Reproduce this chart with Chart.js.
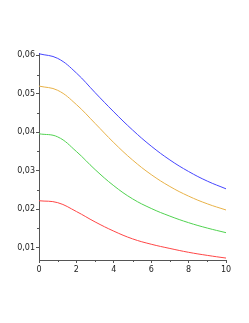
<!DOCTYPE html>
<html><head><meta charset="utf-8">
<script src="https://cdn.jsdelivr.net/npm/chart.js@4/dist/chart.umd.min.js"></script>
<style>html,body{margin:0;padding:0;background:#fff}#w{width:249px;height:323px}</style>
</head><body><div id="w"><canvas id="c"></canvas></div>
<script>
const xValues = [0,1,2,3,4,5,6,7,8,9,10];
const blueSeries   = [0.0604,0.0592,0.0554,0.0503,0.0453,0.0406,0.0364,0.0328,0.0298,0.0273,0.0253];
const orangeSeries = [0.0520,0.0509,0.0472,0.0423,0.0373,0.0328,0.0290,0.0259,0.0234,0.0214,0.0198];
const greenSeries  = [0.0396,0.0388,0.0350,0.0303,0.0261,0.0227,0.0202,0.0182,0.0165,0.0151,0.0139];
const redSeries    = [0.0222,0.0217,0.0194,0.0167,0.0143,0.0123,0.0109,0.0098,0.0088,0.0080,0.0073];
const yTickValues = [0.01,0.02,0.03,0.04,0.05,0.06];
const yTickLabels = ['0,01','0,02','0,03','0,04','0,05','0,06'];
const xTickValues = [0,2,4,6,8,10];
const yMinor = [0.015,0.025,0.035,0.045,0.055];
const xMinor = [1,3,5,7,9];

function pts(arr){ return xValues.map((x,i)=>({x:x,y:arr[i]})); }
function ds(arr,color){ return {data:pts(arr),borderColor:color,borderWidth:1,pointRadius:0,fill:false,tension:0.4}; }

const minorTicks = {
  id:'minorTicks',
  afterDraw(chart){
    const ctx=chart.ctx, xs=chart.scales.x, ys=chart.scales.y;
    ctx.save(); ctx.strokeStyle='#555'; ctx.lineWidth=1;
    yMinor.forEach(v=>{ const p=Math.round(ys.getPixelForValue(v))+0.5; ctx.beginPath(); ctx.moveTo(xs.left-2,p); ctx.lineTo(xs.left,p); ctx.stroke(); });
    xMinor.forEach(v=>{ const p=Math.round(xs.getPixelForValue(v))+0.5; ctx.beginPath(); ctx.moveTo(p,ys.bottom); ctx.lineTo(p,ys.bottom+2); ctx.stroke(); });
    ctx.restore();
  }
};

new Chart(document.getElementById('c'),{
  type:'line',
  data:{datasets:[ds(blueSeries,'rgb(70,70,255)'),ds(orangeSeries,'rgb(232,178,72)'),ds(greenSeries,'rgb(80,210,80)'),ds(redSeries,'rgb(255,70,70)')]},
  options:{
    responsive:true,maintainAspectRatio:false,animation:false,
    layout:{padding:{left:0,right:23,top:53,bottom:43}},
    plugins:{legend:{display:false},tooltip:{enabled:false}},
    scales:{
      x:{type:'linear',min:0,max:10,
        afterBuildTicks(s){ s.ticks = xTickValues.map(v=>({value:v})); },
        afterFit(s){ s.height=20; },
        grid:{drawOnChartArea:false,drawTicks:true,tickLength:3,color:'#555'},
        border:{color:'#555',width:1},
        ticks:{padding:2,color:'#222',font:{family:'DejaVu Sans',size:8},maxRotation:0,callback:v=>String(v)}},
      y:{type:'linear',min:0.0068,max:0.0606,
        afterBuildTicks(s){ s.ticks = yTickValues.map(v=>({value:v})); },
        afterFit(s){ s.width=39; },
        grid:{drawOnChartArea:false,drawTicks:true,tickLength:3,color:'#555'},
        border:{color:'#555',width:1},
        ticks:{padding:1,color:'#222',font:{family:'DejaVu Sans',size:8},callback:(v)=>{const i=yTickValues.findIndex(t=>Math.abs(t-v)<1e-9);return i>=0?yTickLabels[i]:'';}}}
    }
  },
  plugins:[minorTicks]
});
</script></body></html>
